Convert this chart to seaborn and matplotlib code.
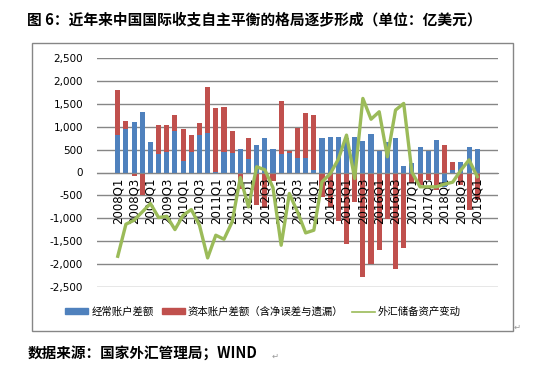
#图6：国际收支自主平衡
import numpy as np
import pandas as pd
import matplotlib
matplotlib.use("Agg")
import matplotlib.pyplot as plt
import seaborn as sns
from matplotlib.patches import Patch, Rectangle
from matplotlib.lines import Line2D

#季度
quarters = [f"{y}Q{q}" for y in range(2008, 2019) for q in range(1, 5)] + ["2019Q1"]

#经常账户差额（亿美元）
current_account = [814, 945, 1100, 1318, 661, 405, 451, 901, 247, 451,
                   814, 858, 20, 451, 421, 505, 291, 596, 749, 505,
                   407, 421, 320, 320, 58, 749, 770, 770, 760, 770,
                   688, 840, 465, 661, 749, 138, 203, 552, 465, 705,
                   -313, 51, 225, 552, 509]

#资本账户差额（含净误差与遗漏）
capital_account = [981, 174, -75, -490, -10, 627, 581, 349, 698, 363,
                   262, 1002, 1383, 973, 480, -349, 458, -698, -771, -183,
                   1148, 44, 647, 974, 1192, -531, -749, -1062, -1555, -640,
                   -2276, -2000, -1679, -1003, -2100, -1643, -225, -280, -167, -371,
                   596, 174, -277, -822, -589]

#外汇储备资产变动
reserve_change = [-1824, -1126, -1039, -858, -676, -981, -952, -1243, -930, -807,
                  -1148, -1860, -1366, -1453, -1076, -109, -749, 124, 60, -330,
                  -1584, -458, -858, -1315, -1257, -203, -30, 290, 814, -131,
                  1613, 1160, 1323, 342, 1359, 1504, 10, -312, -312, -312,
                  -254, -210, 51, 275, -90]

azul = "#4F81BD"
vermelho = "#C0504D"
verde = "#9BBB59"
cinza = "#868686"

df = pd.DataFrame({"quarter": quarters, "ca": current_account,
                   "ka": capital_account, "reserve": reserve_change})
#堆积：同号时红色柱叠在蓝色柱上
df["red_top"] = np.where(np.sign(df["ca"]) == np.sign(df["ka"]),
                         df["ca"] + df["ka"], df["ka"])

plt.rcParams['font.family'] = ['DejaVu Sans', 'Noto Sans CJK SC']
cjk = ['Noto Sans CJK SC', 'DejaVu Sans']

W, H = 548, 380
fig = plt.figure(figsize=(W / 100, H / 100), dpi=100)
ax = fig.add_axes([97 / W, 1 - 287.3 / H, (498 - 97) / W, (287.3 - 57.7) / H])

sns.barplot(data=df, x="quarter", y="red_top", color=vermelho, saturation=1,
            width=0.62, errorbar=None, ax=ax, zorder=1.2)
sns.barplot(data=df, x="quarter", y="ca", color=azul, saturation=1,
            width=0.62, errorbar=None, ax=ax, zorder=1.4)
sns.lineplot(data=df, x="quarter", y="reserve", color=verde, linewidth=2.4,
             sort=False, ax=ax, zorder=4)

#eixos (spine antes dos ticks: set_position reinicia os ticks)
for s in ['left', 'right', 'top']:
    ax.spines[s].set_visible(False)
ax.spines['bottom'].set_position(('data', 0))
ax.spines['bottom'].set_color(cinza)
ax.set_ylim(-2500, 2500)
yt = list(range(-2500, 2501, 500))
ax.set_yticks(yt)
ax.set_yticklabels([f"{v:,}" for v in yt])
ax.set_xticks(range(0, len(quarters), 2))
ax.set_xticklabels(quarters[::2])
ax.tick_params(axis='x', length=0, pad=3.5, labelrotation=90, labelsize=8.5)
ax.tick_params(axis='y', length=0, pad=10, labelsize=7.5)
ax.set_xlabel("")
ax.set_ylabel("")
#linhas de grade atrás das barras, rótulos por cima
for v in yt:
    ax.axhline(v, color=cinza, lw=1, zorder=0.5)
ax.set_axisbelow(False)
ax.patch.set_visible(False)

#moldura do gráfico
fig.add_artist(Rectangle((32 / W, 1 - 331 / H), (513 - 32) / W, (331 - 43) / H,
                         transform=fig.transFigure, fill=False,
                         edgecolor=cinza, lw=1))

#legenda
handles = [Patch(color=azul), Patch(color=vermelho), Line2D([], [], color=verde, lw=1.2)]
labels = ["经常账户差额", "资本账户差额（含净误差与遗漏）", "外汇储备资产变动"]
fig.legend(handles, labels, loc='center', bbox_to_anchor=(263 / W, 1 - 312 / H),
           ncol=3, frameon=False, prop={'family': cjk, 'size': 7.5},
           handlelength=2.2, handleheight=0.5, handletextpad=0.3, columnspacing=0.8)

fig.text(27 / W, 1 - 19 / H, "图 6：近年来中国国际收支自主平衡的格局逐步形成（单位：亿美元）",
         family=cjk, fontsize=10.6, fontweight='bold', va='center', ha='left')
fig.text(28 / W, 1 - 354 / H, "数据来源：国家外汇管理局；WIND",
         family=cjk, fontsize=10.5, fontweight='bold', va='center', ha='left')
fig.text(272 / W, 1 - 356 / H, "↵", family=['DejaVu Sans'], fontsize=6, color='#999999', va='center')
fig.text(514 / W, 1 - 327 / H, "↵", family=['DejaVu Sans'], fontsize=6, color='#999999', va='center')

plt.savefig('out.png', dpi=100)
